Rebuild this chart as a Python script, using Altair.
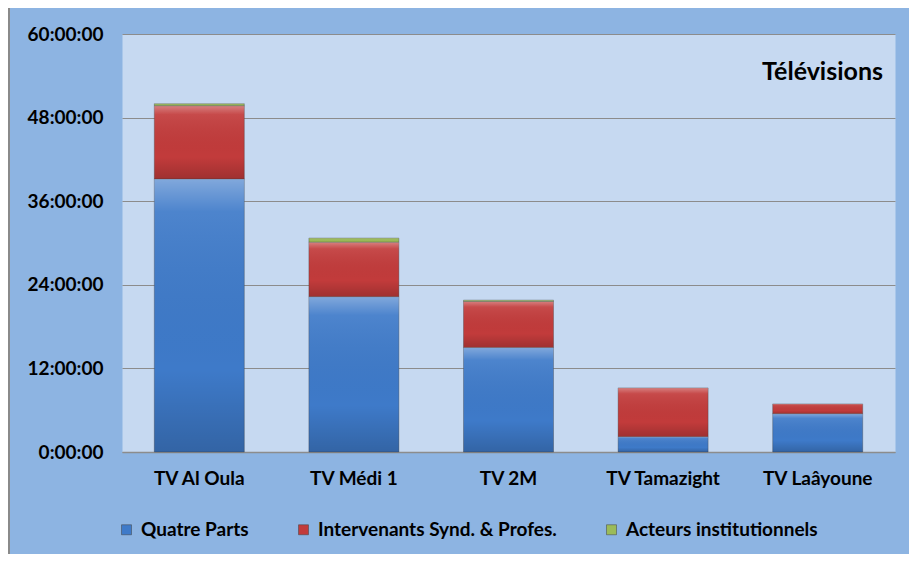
import altair as alt
import pandas as pd

chaines = ["TV Al Oula", "TV Médi 1", "TV 2M", "TV Tamazight", "TV Laâyoune"]
series = ["Quatre Parts", "Intervenants Synd. & Profes.", "Acteurs institutionnels"]
quatre_parts = [39.2, 22.3, 15.0, 2.2, 5.5]
intervenants = [10.5, 7.8, 6.6, 7.0, 1.4]
acteurs = [0.3, 0.6, 0.2, 0.0, 0.0]
colors = ["#3E7AC9", "#C23B3B", "#9BBB59"]
y_ticks = [0, 12, 24, 36, 48, 60]
titre = ["Télévisions"]

rows = []
for i, c in enumerate(chaines):
    for j, (s, vals) in enumerate(zip(series, [quatre_parts, intervenants, acteurs])):
        rows.append({"chaine": c, "serie": s, "heures": vals[i], "ordre": j})
df = pd.DataFrame(rows)

W, H = 773, 418
PL, PT, PR, PB = 114, 26, 14, 102
FONT = "Lato"

x_enc = alt.X("chaine:N", sort=chaines,
              scale=alt.Scale(paddingInner=0.42, paddingOuter=0.21),
              axis=alt.Axis(title=None, labelAngle=0, ticks=False, grid=False,
                            domain=True, domainColor="#8C8C8C", domainWidth=1.5,
                            labelPadding=17))
y_enc = alt.Y("heures:Q", stack="zero",
              scale=alt.Scale(domain=[0, 60], nice=False),
              axis=alt.Axis(title=None, values=y_ticks,
                            labelExpr="datum.value + ':00:00'",
                            ticks=False, domain=False, grid=True,
                            gridColor="#8C8C8C", gridWidth=1,
                            labelPadding=19))

base = alt.Chart(df).transform_filter("datum.heures > 0")

bars = base.mark_bar(
    size=90, stroke="#404040", strokeWidth=0.6, strokeOpacity=0.6
).encode(
    x=x_enc,
    y=y_enc,
    color=alt.Color("serie:N", scale=alt.Scale(domain=series, range=colors),
                    legend=alt.Legend(title=None, orient="none", legendX=-5,
                                      legendY=486, direction="horizontal",
                                      symbolType="square", symbolSize=100,
                                      symbolStrokeColor="#404040",
                                      symbolStrokeWidth=0.5,
                                      labelOffset=5, labelLimit=500,
                                      columnPadding=45, labelFont=FONT,
                                      labelFontSize=19, labelFontWeight="bold",
                                      labelColor="black")),
    order=alt.Order("ordre:Q"),
)

shade = base.mark_bar(
    size=90,
    color=alt.LinearGradient(
        gradient="linear", x1=0, y1=0, x2=0, y2=1,
        stops=[
            alt.GradientStop(color="rgba(255,255,255,0.35)", offset=0),
            alt.GradientStop(color="rgba(255,255,255,0.08)", offset=0.12),
            alt.GradientStop(color="rgba(0,0,0,0.0)", offset=0.7),
            alt.GradientStop(color="rgba(0,0,0,0.18)", offset=1),
        ],
    ),
).encode(
    x=alt.X("chaine:N", sort=chaines),
    y=alt.Y("heures:Q", stack="zero"),
    detail="serie:N",
    order=alt.Order("ordre:Q"),
)

title_mark = alt.Chart(pd.DataFrame({"t": titre})).mark_text(
    align="right", baseline="middle", font=FONT, fontSize=25,
    fontWeight="bold", color="black"
).encode(x=alt.value(W - 12), y=alt.value(38), text="t:N")

border = alt.Chart(pd.DataFrame({"a": [0]})).mark_rule(
    color="#8A8A8A", strokeWidth=2
).encode(x=alt.value(-113), y=alt.value(-PT), y2=alt.value(H + PB))

chart = alt.layer(bars, shade, title_mark, border).properties(
    width=W, height=H,
    padding={"left": PL, "top": PT, "right": PR, "bottom": PB},
    autosize=alt.AutoSizeParams(type="none"),
    background="#8DB4E2",
).configure_view(
    fill="#C6D9F1", stroke="transparent"
).configure_axis(
    labelFont=FONT, labelFontSize=19, labelFontWeight="bold", labelColor="black"
)

chart.save("out.html", embed_options={"renderer": "svg", "actions": False})
